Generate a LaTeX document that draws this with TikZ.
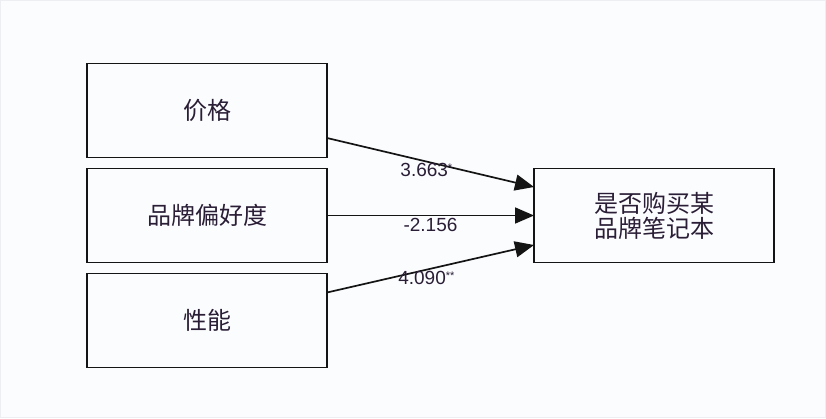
\documentclass[tikz,border=0pt]{standalone}
\usepackage{fontspec}
\setmainfont{Liberation Sans}
\newfontfamily\cjk{Noto Sans CJK SC}
\usetikzlibrary{positioning,arrows.meta}
\definecolor{pagebg}{HTML}{FBFCFE}
\definecolor{pageedge}{HTML}{ECEEF2}
\definecolor{inkline}{HTML}{141414}
\definecolor{inktext}{HTML}{2A1E36}
\newcommand{\sigmark}[1]{\raisebox{5pt}{\fontsize{11}{11}\selectfont #1}}

\begin{document}
\begin{tikzpicture}[x=1pt, y=1pt, node distance=11pt,
    factor/.style={rectangle, draw=inkline, line width=1.8pt, minimum width=240pt, minimum height=94pt, inner sep=0pt, outer sep=0pt, align=center, text=inktext, font=\cjk\fontsize{24}{25}\selectfont},
    link/.style={draw=inkline, line width=1.7pt, -{Triangle[length=19pt, width=16pt]}},
    coef/.style={below, inner sep=2pt, text=inktext, font=\fontsize{19}{20}\selectfont}]
  % Background
  \useasboundingbox (0,0) rectangle (826,-418);
  \fill [pagebg, draw=pageedge] (0.5,-0.5) rectangle (825.5,-417.5);

  % Nodes
  \node (price) [factor] at (207,-110.5) {价格};
  \node (brand) [factor, below=of price] {品牌偏好度};
  \node (perf) [factor, below=of brand] {性能};
  \node (buy) [factor, right=207pt of brand] {是否购买某\\品牌笔记本};

  % Arrows
  \draw [link] ([yshift=-27.5pt]price.east) -- node[coef, pos=0.48, inner sep=0.5pt] {3.663\sigmark{*}} ([yshift=28.5pt]buy.west);
  \draw [link] (brand.east) -- node[coef] {-2.156} (buy.west);
  \draw [link] ([yshift=28pt]perf.east) -- node[coef, pos=0.48, inner sep=1pt] {4.090\sigmark{**}} ([yshift=-29.5pt]buy.west);
\end{tikzpicture}
\end{document}
